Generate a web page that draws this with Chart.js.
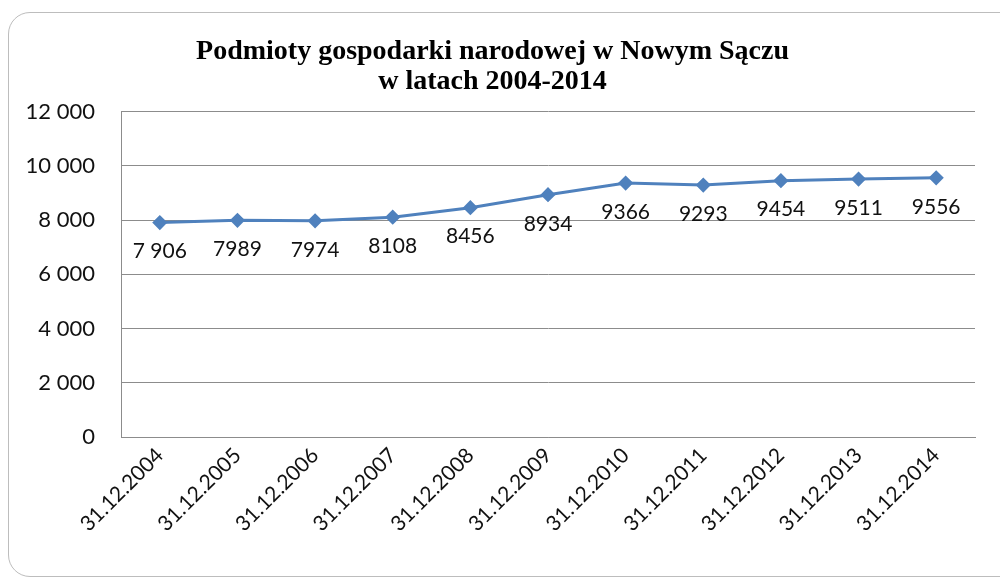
<!DOCTYPE html>
<html>
<head>
<meta charset="utf-8">
<script src="https://cdn.jsdelivr.net/npm/chart.js@4"></script>
<style>
  html, body { margin: 0; padding: 0; background: #fff; }
  #wrap { position: relative; width: 1000px; height: 582px; overflow: hidden; }
  #frame { position: absolute; left: 8px; top: 12px; width: 1020px; height: 565px;
           border: 1.5px solid #bdbdbd; border-radius: 22px; box-sizing: border-box; }
  canvas { position: absolute; left: 0; top: 0; }
</style>
</head>
<body>
<div id="wrap">
  <div id="frame"></div>
  <canvas id="podmioty" width="1000" height="582"></canvas>
</div>
<script>
  // dane z wykresu
  var kategorie = ['31.12.2004', '31.12.2005', '31.12.2006', '31.12.2007', '31.12.2008', '31.12.2009',
                   '31.12.2010', '31.12.2011', '31.12.2012', '31.12.2013', '31.12.2014'];
  var podmioty = [7906, 7989, 7974, 8108, 8456, 8934, 9366, 9293, 9454, 9511, 9556];
  var etykiety = ['7 906', '7989', '7974', '8108', '8456', '8934', '9366', '9293', '9454', '9511', '9556'];
  var osY = ['0', '2 000', '4 000', '6 000', '8 000', '10 000', '12 000'];

  // prosty plugin do etykiet danych (bez chartjs-plugin-datalabels)
  var etykietyPlugin = {
    id: 'etykiety',
    afterDatasetsDraw: function (chart) {
      var ctx = chart.ctx;
      var meta = chart.getDatasetMeta(0);
      ctx.save();
      ctx.font = '21px Lato';
      ctx.fillStyle = '#111';
      ctx.textAlign = 'center';
      ctx.textBaseline = 'middle';
      meta.data.forEach(function (pt, i) {
        ctx.fillText(etykiety[i], pt.x, pt.y + 29);
      });
      ctx.restore();
    }
  };

  var ctx = document.getElementById('podmioty').getContext('2d');
  var myChart = new Chart(ctx, {
    type: 'line',
    data: {
      labels: kategorie,
      datasets: [{
        label: 'Podmioty',
        data: podmioty,
        borderColor: '#4F81BD',
        backgroundColor: '#4F81BD',
        borderWidth: 3,
        pointStyle: 'rectRot',
        pointRadius: 5.5,
        tension: 0
      }]
    },
    options: {
      responsive: false,
      animation: false,
      layout: { padding: { left: 10, right: 25, top: 36, bottom: 20 } },
      plugins: {
        legend: { display: false },
        tooltip: { enabled: false },
        title: {
          display: true,
          text: ['Podmioty gospodarki narodowej w Nowym Sączu', 'w latach 2004-2014'],
          color: '#000',
          font: { family: 'Liberation Serif', size: 28, weight: 'bold', lineHeight: 1.1 },
          padding: { top: 0, bottom: 14 }
        }
      },
      scales: {
        x: {
          offset: true,
          grid: { display: false, drawTicks: false },
          border: { color: '#8c8c8c', width: 1 },
          ticks: {
            color: '#111',
            font: { family: 'Lato', size: 21 },
            minRotation: 45,
            maxRotation: 45,
            padding: 6
          },
          afterFit: function (s) { s.height = 125; }
        },
        y: {
          min: 0,
          max: 12000,
          grid: { color: '#8c8c8c', drawTicks: false },
          border: { color: '#8c8c8c', width: 1 },
          ticks: {
            stepSize: 2000,
            color: '#111',
            font: { family: 'Lato', size: 22 },
            padding: 26,
            callback: function (v) { return osY[v / 2000]; }
          },
          afterFit: function (s) { s.width = 111; }
        }
      }
    },
    plugins: [etykietyPlugin]
  });
</script>
</body>
</html>
